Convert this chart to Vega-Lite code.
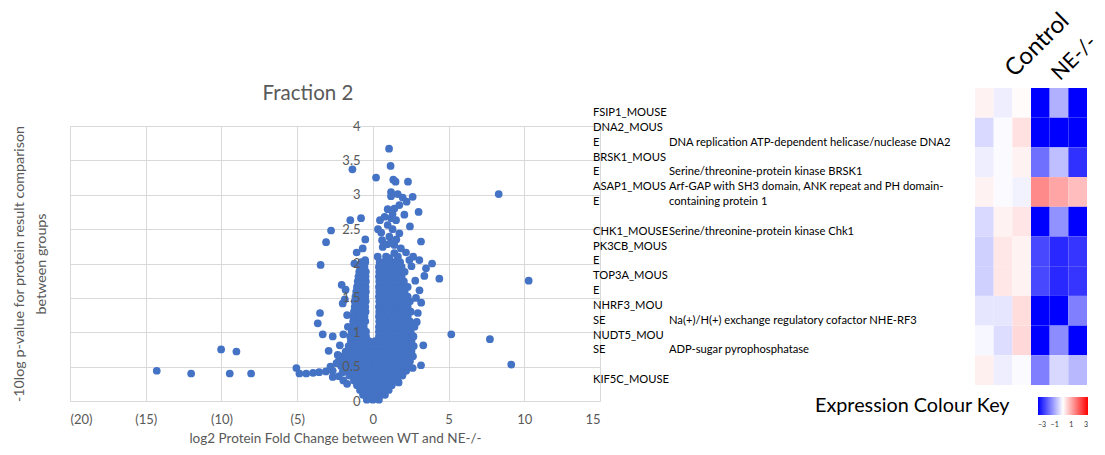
{
  "$schema": "https://vega.github.io/schema/vega-lite/v6.json",
  "width": 530,
  "height": 275,
  "autosize": {"type": "none"},
  "padding": {"left": 70, "top": 126, "right": 505, "bottom": 54},
  "background": "white",
  "config": {"view": {"stroke": null}, "font": "Lato"},
  "title": {"text": "Fraction 2", "font": "Lato", "fontSize": 20.5, "fontWeight": "normal", "color": "#595959", "anchor": "middle", "frame": "group", "dx": -27, "baseline": "alphabetic", "offset": -112},
  "datasets": {
    "cluster": [
      {"fc":-0.4,"p":0.02},{"fc":0.0,"p":0.02},{"fc":0.4,"p":0.02},
      {"fc":-0.65,"p":0.09},{"fc":-0.25,"p":0.09},{"fc":0.15,"p":0.09},{"fc":0.55,"p":0.09},{"fc":0.8,"p":0.09},
      {"fc":-0.85,"p":0.16},{"fc":-0.45,"p":0.16},{"fc":-0.05,"p":0.16},{"fc":0.35,"p":0.16},{"fc":0.75,"p":0.16},{"fc":1.05,"p":0.16},
      {"fc":-1.05,"p":0.23},{"fc":-0.65,"p":0.23},{"fc":-0.25,"p":0.23},{"fc":0.15,"p":0.23},{"fc":0.55,"p":0.23},{"fc":0.95,"p":0.23},{"fc":1.25,"p":0.23},
      {"fc":-1.25,"p":0.3},{"fc":-0.85,"p":0.3},{"fc":-0.45,"p":0.3},{"fc":-0.05,"p":0.3},{"fc":0.35,"p":0.3},{"fc":0.75,"p":0.3},{"fc":1.15,"p":0.3},{"fc":1.5,"p":0.3},
      {"fc":-1.55,"p":0.37},{"fc":-1.15,"p":0.37},{"fc":-0.75,"p":0.37},{"fc":-0.35,"p":0.37},{"fc":0.05,"p":0.37},{"fc":0.45,"p":0.37},{"fc":0.85,"p":0.37},{"fc":1.25,"p":0.37},{"fc":1.65,"p":0.37},{"fc":1.95,"p":0.37},
      {"fc":-1.75,"p":0.44},{"fc":-1.35,"p":0.44},{"fc":-0.95,"p":0.44},{"fc":-0.55,"p":0.44},{"fc":-0.15,"p":0.44},{"fc":0.25,"p":0.44},{"fc":0.65,"p":0.44},{"fc":1.05,"p":0.44},{"fc":1.45,"p":0.44},{"fc":1.85,"p":0.44},{"fc":2.2,"p":0.44},
      {"fc":-2.1,"p":0.51},{"fc":-1.75,"p":0.51},{"fc":-1.35,"p":0.51},{"fc":-0.95,"p":0.51},{"fc":-0.55,"p":0.51},{"fc":-0.15,"p":0.51},{"fc":0.25,"p":0.51},{"fc":0.65,"p":0.51},{"fc":1.05,"p":0.51},{"fc":1.45,"p":0.51},{"fc":1.85,"p":0.51},{"fc":2.3,"p":0.51},
      {"fc":-2.25,"p":0.58},{"fc":-1.9,"p":0.58},{"fc":-1.5,"p":0.58},{"fc":-1.1,"p":0.58},{"fc":-0.7,"p":0.58},{"fc":-0.3,"p":0.58},{"fc":0.1,"p":0.58},{"fc":0.5,"p":0.58},{"fc":0.9,"p":0.58},{"fc":1.3,"p":0.58},{"fc":1.7,"p":0.58},{"fc":2.1,"p":0.58},{"fc":2.45,"p":0.58},
      {"fc":-2.0,"p":0.65},{"fc":-1.65,"p":0.65},{"fc":-1.25,"p":0.65},{"fc":-0.85,"p":0.65},{"fc":-0.45,"p":0.65},{"fc":-0.05,"p":0.65},{"fc":0.35,"p":0.65},{"fc":0.75,"p":0.65},{"fc":1.15,"p":0.65},{"fc":1.55,"p":0.65},{"fc":1.95,"p":0.65},{"fc":2.35,"p":0.65},{"fc":2.65,"p":0.65},
      {"fc":-1.8,"p":0.72},{"fc":-1.4,"p":0.72},{"fc":-1.0,"p":0.72},{"fc":-0.6,"p":0.72},{"fc":-0.2,"p":0.72},{"fc":0.2,"p":0.72},{"fc":0.6,"p":0.72},{"fc":1.0,"p":0.72},{"fc":1.4,"p":0.72},{"fc":1.8,"p":0.72},{"fc":2.2,"p":0.72},{"fc":2.55,"p":0.72},
      {"fc":-1.6,"p":0.8},{"fc":-1.2,"p":0.8},{"fc":-0.8,"p":0.8},{"fc":-0.45,"p":0.8},{"fc":0.0,"p":0.8},{"fc":0.4,"p":0.8},{"fc":0.8,"p":0.8},{"fc":1.2,"p":0.8},{"fc":1.6,"p":0.8},{"fc":2.0,"p":0.8},{"fc":2.4,"p":0.8},{"fc":2.7,"p":0.8},
      {"fc":-1.45,"p":0.87},{"fc":-1.05,"p":0.87},{"fc":-0.65,"p":0.87},{"fc":-0.25,"p":0.87},{"fc":0.15,"p":0.87},{"fc":0.55,"p":0.87},{"fc":0.95,"p":0.87},{"fc":1.35,"p":0.87},{"fc":1.75,"p":0.87},{"fc":2.15,"p":0.87},{"fc":2.55,"p":0.87},
      {"fc":-1.5,"p":0.94},{"fc":-1.1,"p":0.94},{"fc":-0.7,"p":0.94},{"fc":-0.45,"p":0.94},{"fc":0.4,"p":0.94},{"fc":0.75,"p":0.94},{"fc":1.15,"p":0.94},{"fc":1.55,"p":0.94},{"fc":1.95,"p":0.94},{"fc":2.35,"p":0.94},{"fc":2.65,"p":0.94},
      {"fc":-1.4,"p":1.01},{"fc":-1.0,"p":1.01},{"fc":-0.6,"p":1.01},{"fc":-0.45,"p":1.01},{"fc":0.4,"p":1.01},{"fc":0.6,"p":1.01},{"fc":1.0,"p":1.01},{"fc":1.4,"p":1.01},{"fc":1.8,"p":1.01},{"fc":2.2,"p":1.01},{"fc":2.5,"p":1.01},
      {"fc":-1.35,"p":1.08},{"fc":-0.95,"p":1.08},{"fc":-0.6,"p":1.08},{"fc":0.4,"p":1.08},{"fc":0.8,"p":1.08},{"fc":1.2,"p":1.08},{"fc":1.6,"p":1.08},{"fc":2.0,"p":1.08},{"fc":2.35,"p":1.08},
      {"fc":-1.3,"p":1.16},{"fc":-0.9,"p":1.16},{"fc":-0.5,"p":1.16},{"fc":0.42,"p":1.16},{"fc":0.6,"p":1.16},{"fc":1.0,"p":1.16},{"fc":1.4,"p":1.16},{"fc":1.8,"p":1.16},{"fc":2.2,"p":1.16},{"fc":2.45,"p":1.16},
      {"fc":-1.3,"p":1.23},{"fc":-0.95,"p":1.23},{"fc":-0.55,"p":1.23},{"fc":0.4,"p":1.23},{"fc":0.8,"p":1.23},{"fc":1.2,"p":1.23},{"fc":1.6,"p":1.23},{"fc":2.0,"p":1.23},{"fc":2.3,"p":1.23},
      {"fc":-1.25,"p":1.3},{"fc":-0.85,"p":1.3},{"fc":-0.48,"p":1.3},{"fc":0.42,"p":1.3},{"fc":0.6,"p":1.3},{"fc":1.0,"p":1.3},{"fc":1.4,"p":1.3},{"fc":1.8,"p":1.3},{"fc":2.2,"p":1.3},{"fc":2.5,"p":1.3},
      {"fc":-1.2,"p":1.37},{"fc":-0.85,"p":1.37},{"fc":-0.5,"p":1.37},{"fc":0.4,"p":1.37},{"fc":0.8,"p":1.37},{"fc":1.2,"p":1.37},{"fc":1.6,"p":1.37},{"fc":2.0,"p":1.37},{"fc":2.3,"p":1.37},
      {"fc":-1.2,"p":1.45},{"fc":-0.8,"p":1.45},{"fc":-0.47,"p":1.45},{"fc":0.42,"p":1.45},{"fc":0.6,"p":1.45},{"fc":1.0,"p":1.45},{"fc":1.4,"p":1.45},{"fc":1.8,"p":1.45},{"fc":2.15,"p":1.45},{"fc":2.45,"p":1.45},
      {"fc":-1.15,"p":1.52},{"fc":-0.8,"p":1.52},{"fc":-0.5,"p":1.52},{"fc":0.4,"p":1.52},{"fc":0.8,"p":1.52},{"fc":1.2,"p":1.52},{"fc":1.6,"p":1.52},{"fc":1.95,"p":1.52},{"fc":2.3,"p":1.52},
      {"fc":-1.1,"p":1.59},{"fc":-0.75,"p":1.59},{"fc":-0.46,"p":1.59},{"fc":0.42,"p":1.59},{"fc":0.6,"p":1.59},{"fc":1.0,"p":1.59},{"fc":1.4,"p":1.59},{"fc":1.8,"p":1.59},{"fc":2.1,"p":1.59},
      {"fc":-1.05,"p":1.66},{"fc":-0.7,"p":1.66},{"fc":-0.48,"p":1.66},{"fc":0.4,"p":1.66},{"fc":0.8,"p":1.66},{"fc":1.2,"p":1.66},{"fc":1.6,"p":1.66},{"fc":1.95,"p":1.66},{"fc":2.3,"p":1.66},
      {"fc":-1.0,"p":1.74},{"fc":-0.7,"p":1.74},{"fc":-0.46,"p":1.74},{"fc":0.42,"p":1.74},{"fc":0.6,"p":1.74},{"fc":1.0,"p":1.74},{"fc":1.4,"p":1.74},{"fc":1.8,"p":1.74},{"fc":2.05,"p":1.74},
      {"fc":-0.95,"p":1.81},{"fc":-0.65,"p":1.81},{"fc":-0.48,"p":1.81},{"fc":0.4,"p":1.81},{"fc":0.8,"p":1.81},{"fc":1.2,"p":1.81},{"fc":1.6,"p":1.81},{"fc":1.9,"p":1.81},
      {"fc":-0.9,"p":1.88},{"fc":-0.6,"p":1.88},{"fc":-0.46,"p":1.88},{"fc":0.42,"p":1.88},{"fc":0.6,"p":1.88},{"fc":1.0,"p":1.88},{"fc":1.4,"p":1.88},{"fc":1.75,"p":1.88},{"fc":2.1,"p":1.88},
      {"fc":-0.85,"p":1.95},{"fc":-0.55,"p":1.95},{"fc":0.4,"p":1.95},{"fc":0.8,"p":1.95},{"fc":1.2,"p":1.95},{"fc":1.6,"p":1.95},{"fc":1.9,"p":1.95},
      {"fc":-0.75,"p":2.02},{"fc":-0.5,"p":2.02},{"fc":0.45,"p":2.02},{"fc":0.75,"p":2.02},{"fc":1.1,"p":2.02},{"fc":1.45,"p":2.02},{"fc":1.8,"p":2.02}
    ],
    "spread": [
      {"fc":-14.27,"p":0.44},{"fc":-12.0,"p":0.4},{"fc":-10.02,"p":0.75},{"fc":-9.01,"p":0.72},{"fc":-9.45,"p":0.4},{"fc":-8.04,"p":0.4},
      {"fc":-5.05,"p":0.48},{"fc":-4.85,"p":0.4},{"fc":-4.4,"p":0.4},{"fc":-3.95,"p":0.41},{"fc":-3.55,"p":0.42},{"fc":-3.1,"p":0.43},{"fc":-2.65,"p":0.44},{"fc":-2.65,"p":0.35},{"fc":-2.25,"p":0.36},{"fc":-1.95,"p":0.3},{"fc":-1.7,"p":0.25},{"fc":-2.0,"p":0.42},
      {"fc":-3.64,"p":1.13},{"fc":-3.49,"p":1.28},{"fc":-3.31,"p":0.97},{"fc":-2.65,"p":0.94},{"fc":-1.95,"p":0.97},{"fc":-2.92,"p":0.73},{"fc":-2.32,"p":0.67},{"fc":-2.18,"p":0.81},{"fc":-2.06,"p":1.69},{"fc":-1.99,"p":1.42},{"fc":-3.45,"p":1.98},{"fc":-1.8,"p":1.62},{"fc":-1.85,"p":1.48},{"fc":-1.7,"p":1.25},{"fc":-1.65,"p":1.08},{"fc":-2.4,"p":0.55},{"fc":-2.8,"p":0.5},
      {"fc":-1.35,"p":3.37},{"fc":-1.49,"p":2.63},{"fc":-0.78,"p":2.66},{"fc":-2.76,"p":2.48},{"fc":-3.09,"p":2.31},{"fc":-0.5,"p":2.35},{"fc":-0.67,"p":2.22},{"fc":-1.07,"p":2.16},{"fc":-1.22,"p":2.0},{"fc":-0.51,"p":2.05},
      {"fc":1.07,"p":3.67},{"fc":1.17,"p":3.42},{"fc":0.21,"p":3.25},{"fc":1.35,"p":3.22},{"fc":1.5,"p":3.19},{"fc":2.32,"p":3.19},{"fc":1.2,"p":3.04},{"fc":1.2,"p":2.98},{"fc":1.64,"p":3.01},{"fc":1.97,"p":2.96},{"fc":2.23,"p":2.9},{"fc":2.63,"p":2.97},{"fc":3.02,"p":2.75},{"fc":0.98,"p":2.79},{"fc":1.42,"p":2.8},{"fc":0.78,"p":2.68},{"fc":1.2,"p":2.66},{"fc":1.53,"p":2.63},{"fc":2.08,"p":2.71},{"fc":0.47,"p":2.63},{"fc":2.45,"p":2.54},{"fc":0.34,"p":2.5},{"fc":0.98,"p":2.56},{"fc":1.75,"p":2.44},{"fc":0.61,"p":2.34},{"fc":1.09,"p":2.39},{"fc":1.42,"p":2.27},{"fc":0.65,"p":2.24},{"fc":0.32,"p":2.1},{"fc":0.87,"p":2.1},{"fc":1.42,"p":2.15},{"fc":2.19,"p":2.16},{"fc":3.18,"p":2.32},{"fc":3.07,"p":2.05},{"fc":3.91,"p":2.0},{"fc":2.41,"p":2.05},{"fc":0.55,"p":2.45},{"fc":1.3,"p":2.5},{"fc":1.55,"p":2.35},{"fc":0.95,"p":2.28},{"fc":1.2,"p":2.3},{"fc":1.1,"p":2.08},{"fc":1.65,"p":2.1},{"fc":1.85,"p":2.22},{"fc":1.3,"p":2.72},{"fc":1.75,"p":2.85},
      {"fc":8.31,"p":3.01},{"fc":4.39,"p":1.78},{"fc":10.29,"p":1.75},{"fc":5.18,"p":0.97},{"fc":7.73,"p":0.9},{"fc":9.14,"p":0.53},{"fc":3.51,"p":1.93},{"fc":3.4,"p":1.82},{"fc":3.33,"p":0.81},{"fc":3.18,"p":0.52},{"fc":2.63,"p":0.48},{"fc":1.97,"p":0.4},{"fc":1.53,"p":0.35},{"fc":1.7,"p":0.27},{"fc":3.08,"p":1.61},{"fc":3.19,"p":1.43},{"fc":2.97,"p":1.28},{"fc":2.75,"p":1.08},{"fc":2.68,"p":0.94},{"fc":2.56,"p":0.77},{"fc":2.66,"p":2.1},{"fc":2.55,"p":1.96},{"fc":2.8,"p":1.75},{"fc":2.85,"p":1.5},{"fc":2.9,"p":1.15}
    ],
    "lines": [
      {"line":0,"kind":"entry","label":"FSIP1_MOUSE"},
      {"line":1,"kind":"entry","label":"DNA2_MOUS"},
      {"line":2,"kind":"entry","label":"E"},
      {"line":2,"kind":"description","label":"DNA replication ATP-dependent helicase/nuclease DNA2"},
      {"line":3,"kind":"entry","label":"BRSK1_MOUS"},
      {"line":4,"kind":"entry","label":"E"},
      {"line":4,"kind":"description","label":"Serine/threonine-protein kinase BRSK1"},
      {"line":5,"kind":"entry","label":"ASAP1_MOUS"},
      {"line":5,"kind":"description","label":"Arf-GAP with SH3 domain, ANK repeat and PH domain-"},
      {"line":6,"kind":"entry","label":"E"},
      {"line":6,"kind":"description","label":"containing protein 1"},
      {"line":8,"kind":"entry","label":"CHK1_MOUSE"},
      {"line":8,"kind":"description","label":"Serine/threonine-protein kinase Chk1"},
      {"line":9,"kind":"entry","label":"PK3CB_MOUS"},
      {"line":10,"kind":"entry","label":"E"},
      {"line":11,"kind":"entry","label":"TOP3A_MOUS"},
      {"line":12,"kind":"entry","label":"E"},
      {"line":13,"kind":"entry","label":"NHRF3_MOU"},
      {"line":14,"kind":"entry","label":"SE"},
      {"line":14,"kind":"description","label":"Na(+)/H(+) exchange regulatory cofactor NHE-RF3"},
      {"line":15,"kind":"entry","label":"NUDT5_MOU"},
      {"line":16,"kind":"entry","label":"SE"},
      {"line":16,"kind":"description","label":"ADP-sugar pyrophosphatase"},
      {"line":18,"kind":"entry","label":"KIF5C_MOUSE"}
    ],
    "heat": [
      {"protein":"FSIP1_MOUSE","sample":"Control 1","expr":0.15},{"protein":"FSIP1_MOUSE","sample":"Control 2","expr":-0.2},{"protein":"FSIP1_MOUSE","sample":"Control 3","expr":0.05},{"protein":"FSIP1_MOUSE","sample":"NE-/- 1","expr":-3},{"protein":"FSIP1_MOUSE","sample":"NE-/- 2","expr":-0.93},{"protein":"FSIP1_MOUSE","sample":"NE-/- 3","expr":-3},
      {"protein":"DNA2_MOUSE","sample":"Control 1","expr":-0.45},{"protein":"DNA2_MOUSE","sample":"Control 2","expr":-0.05},{"protein":"DNA2_MOUSE","sample":"Control 3","expr":0.35},{"protein":"DNA2_MOUSE","sample":"NE-/- 1","expr":-3},{"protein":"DNA2_MOUSE","sample":"NE-/- 2","expr":-3},{"protein":"DNA2_MOUSE","sample":"NE-/- 3","expr":-3},
      {"protein":"BRSK1_MOUSE","sample":"Control 1","expr":-0.2},{"protein":"BRSK1_MOUSE","sample":"Control 2","expr":-0.05},{"protein":"BRSK1_MOUSE","sample":"Control 3","expr":0.15},{"protein":"BRSK1_MOUSE","sample":"NE-/- 1","expr":-1.68},{"protein":"BRSK1_MOUSE","sample":"NE-/- 2","expr":-0.75},{"protein":"BRSK1_MOUSE","sample":"NE-/- 3","expr":-2.43},
      {"protein":"ASAP1_MOUSE","sample":"Control 1","expr":0.15},{"protein":"ASAP1_MOUSE","sample":"Control 2","expr":-0.05},{"protein":"ASAP1_MOUSE","sample":"Control 3","expr":-0.15},{"protein":"ASAP1_MOUSE","sample":"NE-/- 1","expr":1.38},{"protein":"ASAP1_MOUSE","sample":"NE-/- 2","expr":1.06},{"protein":"ASAP1_MOUSE","sample":"NE-/- 3","expr":0.78},
      {"protein":"CHK1_MOUSE","sample":"Control 1","expr":-0.45},{"protein":"CHK1_MOUSE","sample":"Control 2","expr":0.15},{"protein":"CHK1_MOUSE","sample":"Control 3","expr":0.3},{"protein":"CHK1_MOUSE","sample":"NE-/- 1","expr":-3},{"protein":"CHK1_MOUSE","sample":"NE-/- 2","expr":-1.3},{"protein":"CHK1_MOUSE","sample":"NE-/- 3","expr":-3},
      {"protein":"PK3CB_MOUSE","sample":"Control 1","expr":-0.55},{"protein":"PK3CB_MOUSE","sample":"Control 2","expr":0.28},{"protein":"PK3CB_MOUSE","sample":"Control 3","expr":0.15},{"protein":"PK3CB_MOUSE","sample":"NE-/- 1","expr":-2.15},{"protein":"PK3CB_MOUSE","sample":"NE-/- 2","expr":-2.53},{"protein":"PK3CB_MOUSE","sample":"NE-/- 3","expr":-2.38},
      {"protein":"TOP3A_MOUSE","sample":"Control 1","expr":-0.55},{"protein":"TOP3A_MOUSE","sample":"Control 2","expr":0.28},{"protein":"TOP3A_MOUSE","sample":"Control 3","expr":0.15},{"protein":"TOP3A_MOUSE","sample":"NE-/- 1","expr":-2.15},{"protein":"TOP3A_MOUSE","sample":"NE-/- 2","expr":-2.53},{"protein":"TOP3A_MOUSE","sample":"NE-/- 3","expr":-2.38},
      {"protein":"NHRF3_MOUSE","sample":"Control 1","expr":-0.3},{"protein":"NHRF3_MOUSE","sample":"Control 2","expr":-0.3},{"protein":"NHRF3_MOUSE","sample":"Control 3","expr":0.4},{"protein":"NHRF3_MOUSE","sample":"NE-/- 1","expr":-3},{"protein":"NHRF3_MOUSE","sample":"NE-/- 2","expr":-3},{"protein":"NHRF3_MOUSE","sample":"NE-/- 3","expr":-1.5},
      {"protein":"NUDT5_MOUSE","sample":"Control 1","expr":-0.1},{"protein":"NUDT5_MOUSE","sample":"Control 2","expr":-0.4},{"protein":"NUDT5_MOUSE","sample":"Control 3","expr":0.45},{"protein":"NUDT5_MOUSE","sample":"NE-/- 1","expr":-3},{"protein":"NUDT5_MOUSE","sample":"NE-/- 2","expr":-1.35},{"protein":"NUDT5_MOUSE","sample":"NE-/- 3","expr":-3},
      {"protein":"KIF5C_MOUSE","sample":"Control 1","expr":0.18},{"protein":"KIF5C_MOUSE","sample":"Control 2","expr":-0.2},{"protein":"KIF5C_MOUSE","sample":"Control 3","expr":-0.05},{"protein":"KIF5C_MOUSE","sample":"NE-/- 1","expr":-1.5},{"protein":"KIF5C_MOUSE","sample":"NE-/- 2","expr":-0.46},{"protein":"KIF5C_MOUSE","sample":"NE-/- 3","expr":-0.83}
    ],
    "groups": [{"group":"Control"}],
    "groups2": [{"group":"NE-/-"}]
  },
  "layer": [
    {
      "layer": [
        {
          "data": {"name": "cluster"},
          "mark": {"type": "circle", "size": 60, "color": "#4472C4", "opacity": 1},
          "encoding": {
            "x": {"field": "fc", "type": "quantitative", "scale": {"domain": [-20, 15], "nice": false, "zero": false},
              "axis": {"orient": "bottom", "grid": true, "gridColor": "#d9d9d9", "gridWidth": 1, "values": [-20,-15,-10,-5,0,5,10,15], "domain": false, "ticks": false,
                "labelExpr": "datum.value < 0 ? '(' + abs(datum.value) + ')' : datum.label", "labelFont": "Lato", "labelFontSize": 13, "labelColor": "#595959", "labelPadding": 12,
                "title": "log2 Protein Fold Change between WT and NE-/-", "titleFont": "Lato", "titleFontSize": 13.5, "titleFontWeight": "normal", "titleColor": "#595959", "titlePadding": 5}},
            "y": {"field": "p", "type": "quantitative", "scale": {"domain": [0, 4], "nice": false, "zero": false},
              "axis": {"orient": "left", "grid": true, "gridColor": "#d9d9d9", "gridWidth": 1, "values": [0,0.5,1,1.5,2,2.5,3,3.5,4], "domain": false, "ticks": false, "labels": false,
                "title": ["-10log p-value for protein result comparison", "between groups"], "titleFont": "Lato", "titleFontSize": 14.3, "titleFontWeight": "normal", "titleColor": "#595959", "titlePadding": 22, "titleLineHeight": 22}}
          }
        },
        {
          "data": {"name": "spread"},
          "mark": {"type": "circle", "size": 60, "color": "#4472C4", "opacity": 1},
          "encoding": {
            "x": {"field": "fc", "type": "quantitative", "scale": {"domain": [-20, 15], "nice": false, "zero": false}},
            "y": {"field": "p", "type": "quantitative", "scale": {"domain": [0, 4], "nice": false, "zero": false},
              "axis": {"orient": "left", "offset": -303, "grid": false, "domain": false, "ticks": false, "values": [0,0.5,1,1.5,2,2.5,3,3.5,4], "format": "~g",
                "labelFont": "Lato", "labelFontSize": 13, "labelColor": "#595959", "labelPadding": 13, "title": null, "zindex": 1}}
          }
        }
      ],
      "resolve": {"axis": {"y": "independent"}}
    },
    {
      "data": {"name": "lines"},
      "mark": {"type": "text", "align": "left", "baseline": "middle", "font": "Lato", "fontSize": 11.2, "color": "#000000"},
      "encoding": {
        "x": {"field": "kind", "type": "nominal", "scale": {"type": "point", "domain": ["entry", "description"], "range": [523, 599], "padding": 0}, "axis": null},
        "y": {"field": "line", "type": "quantitative", "scale": {"domain": [0, 18], "range": [-13, 254], "nice": false, "zero": false}, "axis": null},
        "text": {"field": "label"}
      }
    },
    {
      "layer": [
        {
          "data": {"name": "heat"},
          "mark": {"type": "rect"},
          "encoding": {
            "x": {"field": "sample", "type": "nominal", "scale": {"type": "band", "domain": ["Control 1","Control 2","Control 3","NE-/- 1","NE-/- 2","NE-/- 3"], "range": [905, 1017], "paddingInner": 0, "paddingOuter": 0}, "axis": null},
            "y": {"field": "protein", "type": "nominal", "scale": {"type": "band", "domain": ["FSIP1_MOUSE","DNA2_MOUSE","BRSK1_MOUSE","ASAP1_MOUSE","CHK1_MOUSE","PK3CB_MOUSE","TOP3A_MOUSE","NHRF3_MOUSE","NUDT5_MOUSE","KIF5C_MOUSE"], "range": [-38, 259], "paddingInner": 0, "paddingOuter": 0}, "axis": null},
            "color": {"field": "expr", "type": "quantitative",
              "scale": {"domain": [-3, 0, 3], "range": ["#0000ff", "#ffffff", "#ff0000"], "interpolate": "rgb"},
              "legend": {"orient": "none", "legendX": 745, "legendY": 271, "direction": "horizontal", "gradientLength": 50, "gradientThickness": 18,
                "title": "Expression Colour Key", "titleOrient": "left", "titleAnchor": "middle", "titleBaseline": "middle", "titleFont": "Lato", "titleFontSize": 19.8, "titleFontWeight": "normal", "titleColor": "#000000", "titlePadding": 28, "titleLimit": 400,
                "values": [-3, -1, 1, 3], "labelFont": "Lato", "labelFontSize": 7, "labelColor": "#333333", "labelOffset": 6, "padding": 0}}
          }
        },
        {
          "data": {"name": "groups"},
          "mark": {"type": "text", "angle": -45, "align": "left", "baseline": "alphabetic", "font": "Lato", "fontSize": 24, "color": "#000000", "dx": 2, "dy": -12},
          "encoding": {
            "x": {"datum": "Control 3"},
            "y": {"datum": "FSIP1_MOUSE", "bandPosition": 0},
            "text": {"field": "group"}
          }
        },
        {
          "data": {"name": "groups2"},
          "mark": {"type": "text", "angle": -45, "align": "left", "baseline": "alphabetic", "font": "Lato", "fontSize": 21, "color": "#000000", "dx": 5.5, "dy": -4},
          "encoding": {
            "x": {"datum": "NE-/- 2"},
            "y": {"datum": "FSIP1_MOUSE", "bandPosition": 0},
            "text": {"field": "group"}
          }
        }
      ]
    }
  ],
  "resolve": {"scale": {"x": "independent", "y": "independent"}}
}
